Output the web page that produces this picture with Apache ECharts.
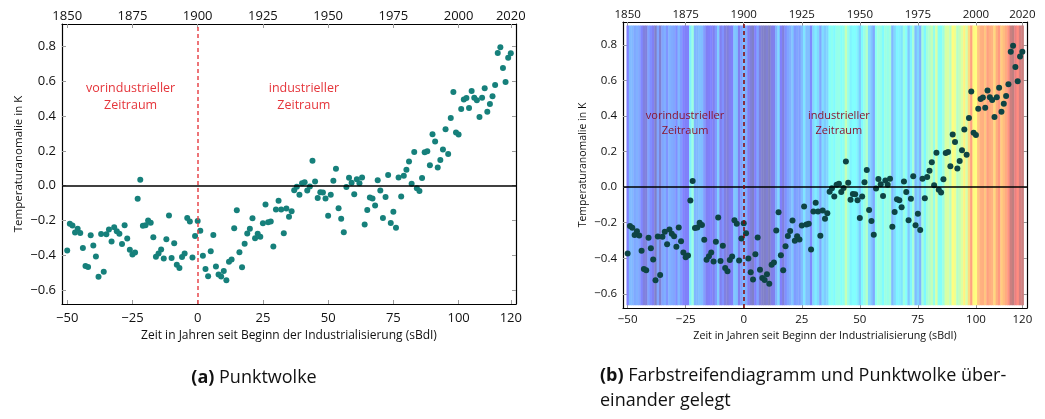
<!DOCTYPE html>
<html><head><meta charset="utf-8">
<script src="https://cdn.jsdelivr.net/npm/echarts@6/dist/echarts.min.js"></script>
<style>html,body{margin:0;padding:0;background:#fff}#c{width:1045px;height:419px}</style>
</head><body><div id="c"></div>
<script>
// ---- data ----
const startYear = 1850;
const baseYear = 1900;
const anomalies = [
-0.373,-0.218,-0.228,-0.269,-0.248,-0.272,-0.358,-0.461,-0.467,-0.284,
-0.343,-0.407,-0.524,-0.278,-0.494,-0.279,-0.251,-0.321,-0.238,-0.262,
-0.276,-0.335,-0.227,-0.304,-0.368,-0.395,-0.384,-0.075,0.035,-0.230,
-0.227,-0.200,-0.213,-0.296,-0.409,-0.389,-0.367,-0.418,-0.307,-0.171,
-0.416,-0.330,-0.455,-0.473,-0.410,-0.390,-0.186,-0.206,-0.412,-0.289,
-0.203,-0.259,-0.402,-0.479,-0.520,-0.377,-0.283,-0.465,-0.511,-0.522,
-0.490,-0.544,-0.437,-0.424,-0.244,-0.141,-0.383,-0.468,-0.333,-0.275,
-0.247,-0.187,-0.302,-0.276,-0.294,-0.215,-0.108,-0.210,-0.206,-0.350,
-0.137,-0.087,-0.137,-0.273,-0.131,-0.178,-0.147,-0.026,-0.006,-0.052,
0.014,0.020,-0.027,-0.004,0.144,0.025,-0.071,-0.038,-0.039,-0.074,
-0.173,-0.052,0.028,0.097,-0.129,-0.190,-0.267,-0.007,0.046,0.017,
-0.049,0.038,0.014,0.048,-0.223,-0.140,-0.068,-0.074,-0.113,0.032,
-0.027,-0.186,-0.065,0.062,-0.214,-0.149,-0.241,0.047,-0.062,0.057,
0.092,0.140,0.011,0.194,-0.014,-0.030,0.045,0.192,0.198,0.118,
0.296,0.254,0.105,0.148,0.208,0.325,0.183,0.390,0.539,0.306,
0.294,0.441,0.496,0.505,0.447,0.545,0.506,0.491,0.395,0.506,
0.560,0.425,0.470,0.514,0.579,0.763,0.797,0.677,0.597,0.736,
0.762
];
const xTickValues = [-50,-25,0,25,50,75,100,120];
const yTickValues = [-0.6,-0.4,-0.2,0.0,0.2,0.4,0.6,0.8];
const labelPre = ['vorindustrieller','Zeitraum'];
const labelInd = ['industrieller','Zeitraum'];
const xName = 'Zeit in Jahren seit Beginn der Industrialisierung (sBdI)';
const yName = 'Temperaturanomalie in K';

// ---- build ----
const points = anomalies.map((v,i)=>[startYear + i - baseYear, v]);
const FONT = 'Open Sans';
const XMIN=-52, XMAX=122, YMIN=-0.68, YMAX=0.93;
const jet = ['#8080bf','#8080ff','#80bfff','#80ffff','#bfffbf','#ffff80','#ffbf80','#ff8080','#bf8080'];

function fmtY(v){ return v.toFixed(1).replace('-','\u2212'); }
function fmtX(v){ return String(v).replace('-','\u2212'); }

function xAxesFor(g, fs, mB, mT, nameGap, nameFs){
  const tick = {show:true, inside:true, length:4, lineStyle:{color:'#9a9a9a', width:1}, customValues:xTickValues};
  const line = {show:true, onZero:false, lineStyle:{color:'#000', width:1.2}};
  return [
    {type:'value', gridIndex:g, position:'bottom', min:XMIN, max:XMAX, axisLine:line, axisTick:tick,
     splitLine:{show:false},
     axisLabel:{customValues:xTickValues, formatter:fmtX, fontFamily:FONT, fontSize:fs, color:'#111', margin:mB},
     name:xName, nameLocation:'middle', nameGap:nameGap, nameTextStyle:{fontFamily:FONT, fontSize:nameFs, color:'#111'}},
    {type:'value', gridIndex:g, position:'top', min:XMIN, max:XMAX, axisLine:line, axisTick:tick,
     splitLine:{show:false},
     axisLabel:{customValues:xTickValues, formatter:v=>String(v+baseYear), fontFamily:FONT, fontSize:fs, color:'#111', margin:mT}}
  ];
}
function yAxesFor(g, fs, m, nameGap, nameFs){
  const tick = {show:true, inside:true, length:4, lineStyle:{color:'#9a9a9a', width:1}, customValues:yTickValues};
  const line = {show:true, onZero:false, lineStyle:{color:'#000', width:1.2}};
  return [
    {type:'value', gridIndex:g, position:'left', min:YMIN, max:YMAX, axisLine:line, axisTick:tick,
     splitLine:{show:false},
     axisLabel:{customValues:yTickValues, formatter:fmtY, fontFamily:FONT, fontSize:fs, color:'#111', margin:m},
     name:yName, nameLocation:'middle', nameGap:nameGap, nameRotate:90, nameTextStyle:{fontFamily:FONT, fontSize:nameFs, color:'#111'}},
    {type:'value', gridIndex:g, position:'right', min:YMIN, max:YMAX, axisLine:line, axisTick:tick,
     splitLine:{show:false}, axisLabel:{show:false}}
  ];
}

function marks(zeroColor, dashColor, textColor, fs, pre, ind){
  return {
    markLine:{silent:true, symbol:['none','none'], label:{show:false}, animation:false,
      data:[
        {yAxis:0, lineStyle:{color:zeroColor, width:1.5, type:'solid'}},
        {xAxis:0, lineStyle:{color:dashColor, width:1.5, type:[4,3]}}
      ]},
    markPoint:{silent:true, symbol:'circle', symbolSize:0, animation:false,
      label:{show:true, position:'inside', color:textColor, fontFamily:FONT, fontSize:fs, lineHeight:fs+4},
      data:[
        {coord:pre, value:0, label:{formatter:labelPre.join('\n')}},
        {coord:ind, value:0, label:{formatter:labelInd.join('\n')}}
      ]}
  };
}

const option = {
  animation:false,
  backgroundColor:'#fff',
  grid:[
    {left:62, top:24, width:454, height:280},
    {left:623, top:22, width:404, height:286}
  ],
  xAxis:[...xAxesFor(0,13,8,1,23,12), ...xAxesFor(1,11.5,6,1,20,10.7)],
  yAxis:[...yAxesFor(0,13,6,37,11.5), ...yAxesFor(1,11.5,6,34,10.5)],
  visualMap:{type:'continuous', show:false, seriesIndex:1, dimension:1,
    min:Math.min(...anomalies), max:Math.max(...anomalies), inRange:{color:jet}},
  series:[
    Object.assign({type:'scatter', xAxisIndex:0, yAxisIndex:0, data:points, symbolSize:6,
      itemStyle:{color:'#16807b', opacity:1}, z:3},
      marks('#000','#e8474c','#e5353b',12.5,[-25.7,0.51],[40.7,0.51])),
    {type:'custom', xAxisIndex:2, yAxisIndex:2, data:points, z:1, silent:true,
      renderItem:function(params, api){
        const x = api.value(0);
        const p1 = api.coord([x-0.5, 0.91]);
        const p2 = api.coord([x+0.5, -0.665]);
        return {type:'rect', shape:{x:p1[0], y:p1[1], width:p2[0]-p1[0]+0.4, height:p2[1]-p1[1]},
          style:{fill:api.visual('color')}};
      }},
    Object.assign({type:'scatter', xAxisIndex:2, yAxisIndex:2, data:points, symbolSize:6,
      itemStyle:{color:'#0e4444', opacity:1}, z:3},
      marks('#000','#8b0000','#8a1530',11,[-25.3,0.36],[41,0.36]))
  ],
  graphic:[
    {type:'text', x:254, y:378, style:{text:'{b|(a)}{n| Punktwolke}', textAlign:'center', textVerticalAlign:'middle',
      rich:{b:{fontFamily:FONT, fontSize:18, fontWeight:'bold', fill:'#111'}, n:{fontFamily:FONT, fontSize:18, fill:'#111'}}}},
    {type:'text', x:600, y:376, style:{text:'{b|(b)}{n| Farbstreifendiagramm und Punktwolke über-}', textAlign:'left', textVerticalAlign:'middle',
      rich:{b:{fontFamily:FONT, fontSize:18, fontWeight:'bold', fill:'#111'}, n:{fontFamily:FONT, fontSize:18, fill:'#111'}}}},
    {type:'text', x:600, y:401, style:{text:'einander gelegt', textAlign:'left', textVerticalAlign:'middle',
      fontFamily:FONT, fontSize:18, fill:'#111'}}
  ]
};
const chart = echarts.init(document.getElementById('c'), null, {renderer:'canvas'});
chart.setOption(option);
</script></body></html>
